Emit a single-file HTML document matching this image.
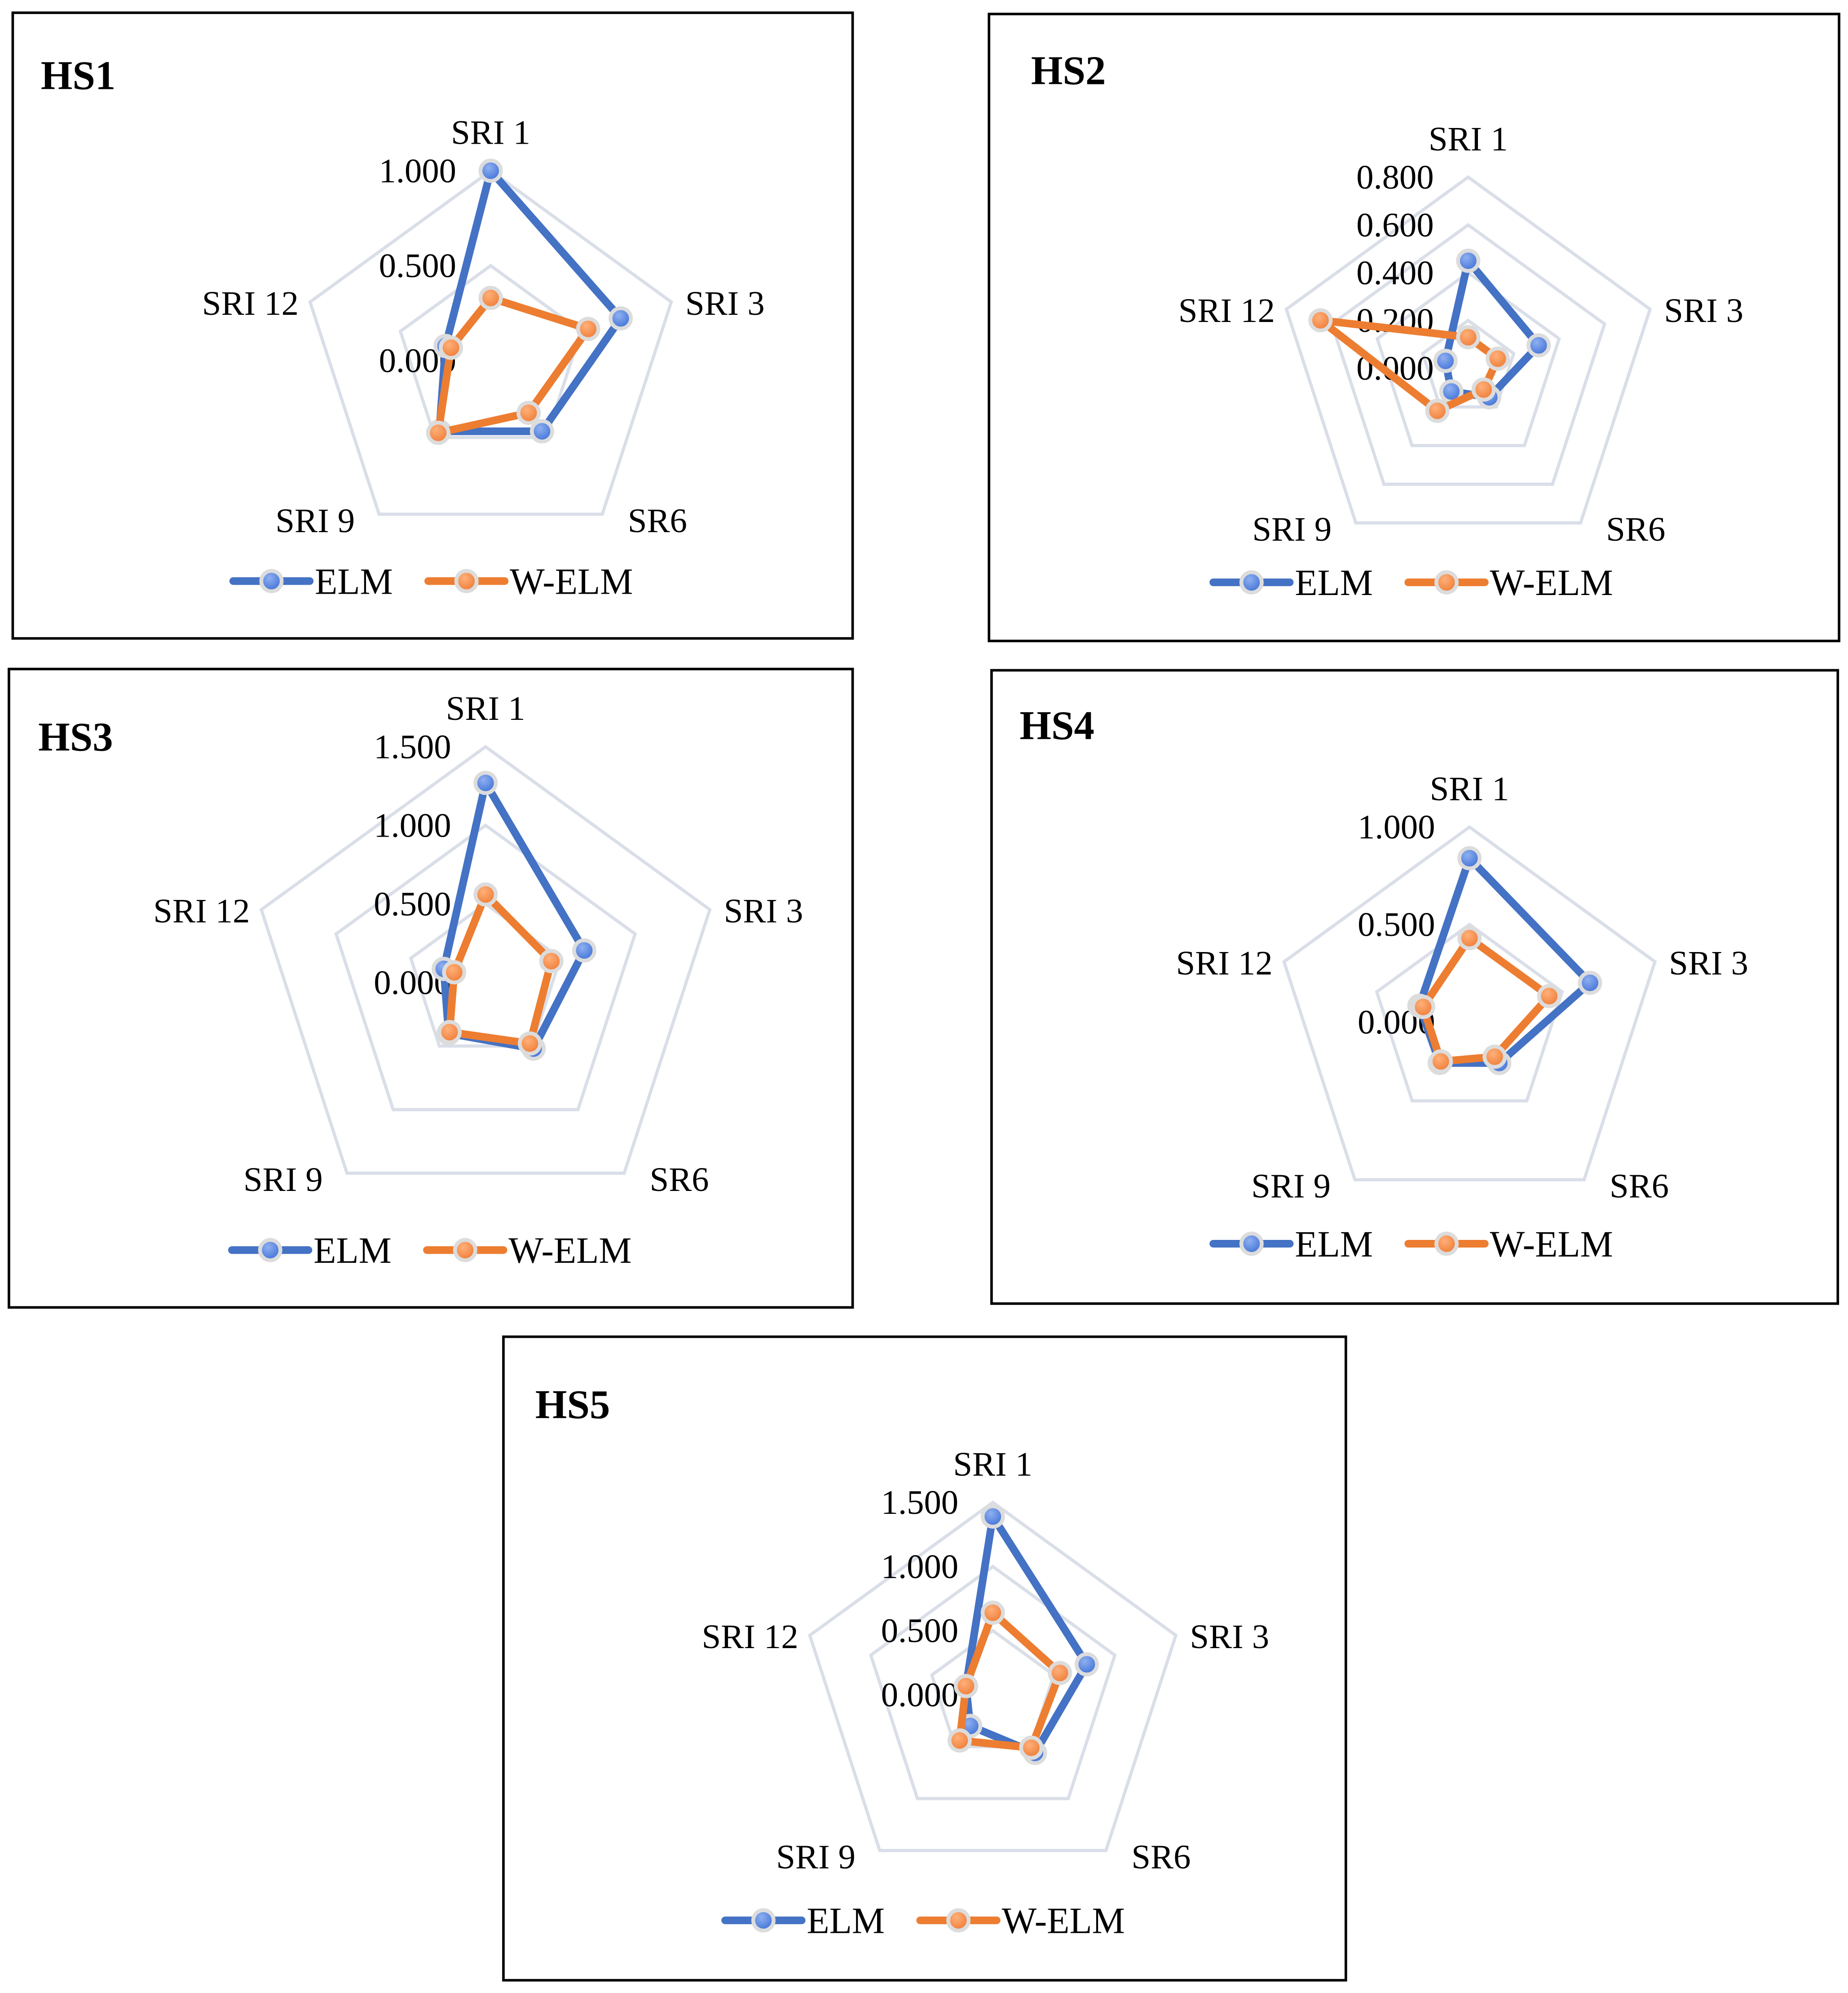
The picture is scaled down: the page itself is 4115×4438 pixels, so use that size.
<!DOCTYPE html>
<html><head><meta charset="utf-8"><style>
html,body{margin:0;padding:0;background:#fff}
svg{display:block}
text{font-family:"Liberation Serif",serif;fill:#000}
</style></head><body>
<svg id="root" width="4115" height="4438" viewBox="0 0 1450 1564" preserveAspectRatio="none" xmlns="http://www.w3.org/2000/svg">
<defs>
<radialGradient id="gb" cx="0.4" cy="0.35" r="0.7"><stop offset="0" stop-color="#8fb0f0"/><stop offset="1" stop-color="#3d6fd6"/></radialGradient>
<radialGradient id="go" cx="0.4" cy="0.35" r="0.7"><stop offset="0" stop-color="#ffb07a"/><stop offset="1" stop-color="#ee7a33"/></radialGradient>
</defs>
</svg>
<script>
const categories = ["SRI 1","SRI 3","SR6","SRI 9","SRI 12"];
const seriesNames = ["ELM","W-ELM"];
const hs1Elm = [1.0, 0.72, 0.46, 0.46, 0.25];
const hs1Welm = [0.33, 0.54, 0.34, 0.47, 0.22];
const hs2Elm = [0.45, 0.31, 0.15, 0.12, 0.10];
const hs2Welm = [0.13, 0.13, 0.11, 0.22, 0.65];
const hs3Elm = [1.27, 0.66, 0.52, 0.40, 0.28];
const hs3Welm = [0.56, 0.44, 0.48, 0.39, 0.21];
const hs4Elm = [0.84, 0.65, 0.26, 0.26, 0.27];
const hs4Welm = [0.43, 0.43, 0.22, 0.25, 0.25];
const hs5Elm = [1.39, 0.77, 0.56, 0.30, 0.22];
const hs5Welm = [0.64, 0.55, 0.51, 0.44, 0.22];
const hs1Ticks = [0, 0.5, 1.0];
const hs2Ticks = [0, 0.2, 0.4, 0.6, 0.8];
const hs3Ticks = [0, 0.5, 1.0, 1.5];
const hs4Ticks = [0, 0.5, 1.0];
const hs5Ticks = [0, 0.5, 1.0, 1.5];

const NS = "http://www.w3.org/2000/svg";
const root = document.getElementById('root');
function mk(tag, attrs, parent){const e=document.createElementNS(NS,tag);for(const k in attrs)e.setAttribute(k,attrs[k]);(parent||root).appendChild(e);return e;}

const panels = [
 {title:"HS1", box:[10,10,659,491], tx:32, ty:70, cx:385, cy:283, R:149, ticks:hs1Ticks, elm:hs1Elm, welm:hs1Welm, ly:456, lx:183},
 {title:"HS2", box:[776,11,667,492], tx:809, ty:66, cx:1152, cy:289, R:150, ticks:hs2Ticks, elm:hs2Elm, welm:hs2Welm, ly:457, lx:952},
 {title:"HS3", box:[7,525,662,501], tx:30, ty:589, cx:381, cy:771, R:185, ticks:hs3Ticks, elm:hs3Elm, welm:hs3Welm, ly:981, lx:182},
 {title:"HS4", box:[778,526,664,497], tx:800, ty:580, cx:1153, cy:802, R:153, ticks:hs4Ticks, elm:hs4Elm, welm:hs4Welm, ly:976, lx:952},
 {title:"HS5", box:[395,1049,661,505], tx:420, ty:1113, cx:779, cy:1330, R:151, ticks:hs5Ticks, elm:hs5Elm, welm:hs5Welm, ly:1507, lx:569}
];

panels.forEach(p=>{
  const g = mk('g',{});
  
  
  const box = mk('rect',{x:p.box[0],y:p.box[1],width:p.box[2],height:p.box[3],fill:'none',stroke:'#000','stroke-width':2},g);
  
  
  const t = mk('text',{x:p.tx,y:p.ty,'font-size':32,'font-weight':'bold'},g);
  t.textContent = p.title;
  
  
  const maxV = p.ticks[p.ticks.length-1];
  const rr = v => v/maxV*p.R;
  const ang = i => -Math.PI/2 + i*2*Math.PI/5;
  const pt = (i,v) => [p.cx + rr(v)*Math.cos(ang(i)), p.cy + rr(v)*Math.sin(ang(i))];
  p.ticks.forEach(tv=>{
    if(tv<=0) return;
    const pts=[0,1,2,3,4].map(i=>pt(i,tv).join(',')).join(' ');
    const ring = mk('polygon',{points:pts,fill:'none',stroke:'#d9dee8','stroke-width':2.5},g);
    
    
  });
  p.ticks.forEach(tv=>{
    const y = p.cy - rr(tv);
    const tl = mk('text',{x:p.cx-27,y:y+9,'font-size':27,'text-anchor':'end'},g);
    tl.textContent = tv.toFixed(3);
    
    
  });
  categories.forEach((c,i)=>{
    const [x,y] = pt(i,maxV);
    let a={x:x,y:y,'font-size':27};
    if(i===0){a.x=x;a.y=y-21;a['text-anchor']='middle';}
    else if(i===1){a.x=x+11;a.y=y+10;}
    else if(i===2){a.x=x+20;a.y=y+14;}
    else if(i===3){a.x=x-19;a.y=y+14;a['text-anchor']='end';}
    else {a.x=x-9;a.y=y+10;a['text-anchor']='end';}
    const cl = mk('text',a,g);
    cl.textContent = c;
    
    
  });
  const order=[[p.elm,'#4472C4','url(#gb)','elm'],[p.welm,'#ED7D31','url(#go)','w-elm']];
  order.forEach(s=>{
    const pts=s[0].map((v,i)=>pt(i,v).join(',')).join(' ');
    const ln = mk('polygon',{points:pts,fill:'none',stroke:s[1],'stroke-width':6,'stroke-linejoin':'round'},g);
    
    
    s[0].forEach((v,i)=>{
      const [x,y]=pt(i,v);
      const m = mk('circle',{cx:x,cy:y,r:8,fill:s[2],stroke:'#dcdcdc','stroke-width':3},g);
      
      
    });
  });
  const legs=[[p.lx,'#4472C4','url(#gb)',seriesNames[0]],[p.lx+153,'#ED7D31','url(#go)',seriesNames[1]]];
  legs.forEach(L=>{
    const lg = mk('g',{},g);
    
    
    mk('line',{x1:L[0],y1:p.ly,x2:L[0]+60,y2:p.ly,stroke:L[1],'stroke-width':6,'stroke-linecap':'round'},lg);
    mk('circle',{cx:L[0]+30,cy:p.ly,r:8,fill:L[2],stroke:'#dcdcdc','stroke-width':3},lg);
    const lt = mk('text',{x:L[0]+64,y:p.ly+10,'font-size':29},lg);
    lt.textContent = L[3];
  });
});
</script>
</body></html>
